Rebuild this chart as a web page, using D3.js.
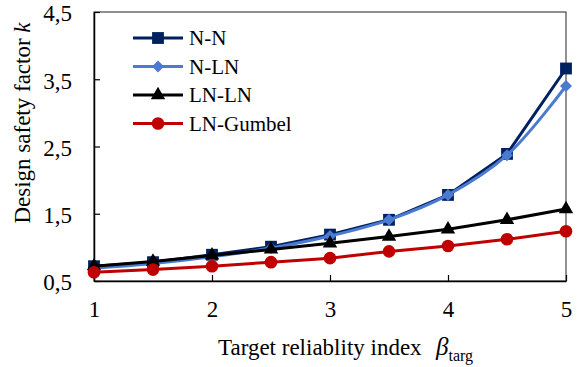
<!DOCTYPE html>
<html>
<head>
<meta charset="utf-8">
<script src="https://cdn.jsdelivr.net/npm/d3@7"></script>
<style>
  body { margin: 0; background: #fff; }
  text { font-family: "Liberation Serif", "Times New Roman", serif; fill: #000; }
</style>
</head>
<body>
<div id="chart"></div>
<script>
// data
var beta = [1, 1.5, 2, 2.5, 3, 3.5, 4, 4.5, 5];
var nN = [0.72, 0.78, 0.89, 1.01, 1.19, 1.41, 1.78, 2.39, 3.66];
var nLN = [0.69, 0.76, 0.86, 0.99, 1.17, 1.41, 1.78, 2.37, 3.40];
var lnLN = [0.72, 0.79, 0.88, 0.97, 1.06, 1.16, 1.27, 1.41, 1.57];
var lnGumbel = [0.63, 0.67, 0.72, 0.78, 0.84, 0.94, 1.02, 1.12, 1.24];
var seriesNames = ["N-N", "N-LN", "LN-LN", "LN-Gumbel"];
var xTicks = [1, 2, 3, 4, 5];
var yTicks = [0.5, 1.5, 2.5, 3.5, 4.5];

const w = 577, h = 367;
const m = {left: 94, right: 11, top: 12, bottom: 86};

const svg = d3.select("#chart").append("svg")
    .attr("width", w).attr("height", h);

const x = d3.scaleLinear().domain([1, 5]).range([m.left, w - m.right]);
const y = d3.scaleLinear().domain([0.5, 4.5]).range([h - m.bottom, m.top]);

const fmt = d => d3.format(".1f")(d).replace(".", ",");

// frame (top + right)
svg.append("rect")
    .attr("x", x(1)).attr("y", y(4.5))
    .attr("width", x(5) - x(1)).attr("height", y(0.5) - y(4.5))
    .attr("fill", "none").attr("stroke", "#222").attr("stroke-width", 1);

// axes with inward ticks
const xAxis = svg.append("g")
    .attr("transform", "translate(0," + y(0.5) + ")")
    .call(d3.axisBottom(x).tickValues(xTicks).tickFormat(d3.format("d"))
        .tickSizeInner(-6).tickSizeOuter(0).tickPadding(20));
const yAxis = svg.append("g")
    .attr("transform", "translate(" + x(1) + ",0)")
    .call(d3.axisLeft(y).tickValues(yTicks).tickFormat(fmt)
        .tickSizeInner(-6).tickSizeOuter(0).tickPadding(22));
yAxis.selectAll("text").attr("dy", "0.38em");

[xAxis, yAxis].forEach(function(a) {
    a.attr("font-family", null).attr("font-size", null);
    a.select(".domain").attr("stroke", "#000").attr("stroke-width", 1.5);
    a.selectAll(".tick line").attr("stroke", "#000").attr("stroke-width", 1.2);
    a.selectAll("text").style("font-size", "23px").attr("fill", "#000");
});

// axis titles
const xt = svg.append("text")
    .attr("x", 218).attr("y", 355)
    .style("font-size", "23px");
xt.append("tspan").text("Target reliablity index");
xt.append("tspan").attr("x", 436).style("font-style", "italic").style("font-size", "25px").text("β");
xt.append("tspan").attr("dy", 6).style("font-size", "16px").text("targ");

const yt = svg.append("text")
    .attr("transform", "translate(30,123) rotate(-90)")
    .attr("text-anchor", "middle")
    .style("font-size", "23px");
yt.append("tspan").text("Design safety factor ");
yt.append("tspan").style("font-style", "italic").text("k");

// series (diamond = square turned 45deg)
const series = [
    {name: seriesNames[0], vals: nN, color: "#002060", marker: d3.symbolSquare, size: 140, rot: 0, curve: d3.curveLinear},
    {name: seriesNames[1], vals: nLN, color: "#4a7bd0", marker: d3.symbolSquare, size: 72, rot: 45, curve: d3.curveCatmullRom},
    {name: seriesNames[2], vals: lnLN, color: "#000000", marker: d3.symbolTriangle, size: 90, rot: 0, curve: d3.curveLinear},
    {name: seriesNames[3], vals: lnGumbel, color: "#c00000", marker: d3.symbolCircle, size: 125, rot: 0, curve: d3.curveLinear}
];

series.forEach(function(s) {
    const line = d3.line().x((d, i) => x(beta[i])).y(d => y(d)).curve(s.curve);
    const g = svg.append("g");
    g.append("path").datum(s.vals)
        .attr("d", line).attr("fill", "none")
        .attr("stroke", s.color).attr("stroke-width", 3);
    g.selectAll("path.pt").data(s.vals).enter().append("path")
        .attr("class", "pt")
        .attr("d", d3.symbol().type(s.marker).size(s.size))
        .attr("transform", (d, i) => "translate(" + x(beta[i]) + "," + y(d) + ") rotate(" + s.rot + ")")
        .attr("fill", s.color);
});

// legend
const lg = svg.append("g").attr("transform", "translate(133,38)");
series.forEach(function(s, i) {
    const row = lg.append("g").attr("transform", "translate(0," + (i * 28.5) + ")");
    row.append("line").attr("x1", 0).attr("x2", 50).attr("y1", 0).attr("y2", 0)
        .attr("stroke", s.color).attr("stroke-width", 3);
    row.append("path").attr("d", d3.symbol().type(s.marker).size(s.size))
        .attr("transform", "translate(25,0) rotate(" + s.rot + ")").attr("fill", s.color);
    row.append("text").attr("x", 56).attr("y", 7)
        .style("font-size", "21px").text(s.name);
});
</script>
</body>
</html>
